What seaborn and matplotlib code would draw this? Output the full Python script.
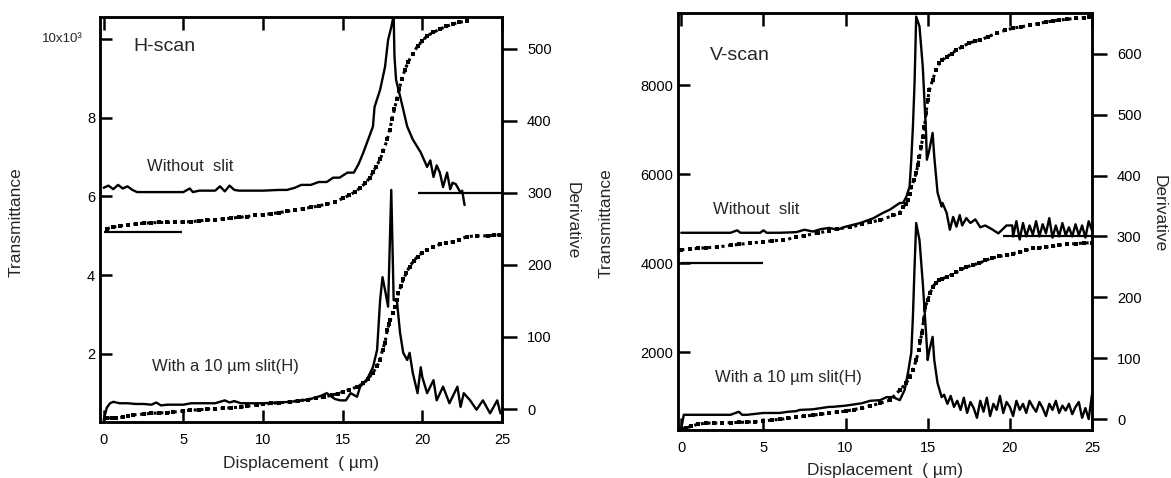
import pandas as pd
import seaborn as sns
import matplotlib
matplotlib.use("Agg")
import matplotlib.pyplot as plt

sns.set_style("white")
plt.rcParams['font.family'] = ['Liberation Sans', 'DejaVu Sans']

# ---------------- H-scan ----------------
# transmittance (x10^3), without slit
h_top_T_x = [0.2, 0.6, 1.0, 1.5, 2.0, 2.5, 3.0, 3.5, 4.0, 4.5, 5.0, 5.5, 6.0, 6.5, 7.0, 7.5,
             8.0, 8.5, 9.0, 9.5, 10.0, 10.5, 11.0, 11.5, 12.0, 12.5, 13.0, 13.5, 14.0, 14.5,
             15.0, 15.4, 15.8, 16.1, 16.4, 16.7, 16.9, 17.1, 17.35, 17.55, 17.8, 17.95, 18.1,
             18.25, 18.4, 18.55, 18.7, 18.9, 19.1, 19.4, 19.7, 20.0, 20.3, 20.7, 21.1, 21.5,
             21.9, 22.3, 22.8]
h_top_T = [5.18, 5.22, 5.25, 5.28, 5.30, 5.32, 5.33, 5.34, 5.34, 5.34, 5.35, 5.36, 5.38, 5.40,
           5.41, 5.43, 5.45, 5.47, 5.49, 5.52, 5.54, 5.56, 5.59, 5.62, 5.65, 5.69, 5.72, 5.76,
           5.81, 5.86, 5.95, 6.03, 6.12, 6.22, 6.33, 6.47, 6.62, 6.76, 6.94, 7.15, 7.45, 7.70,
           7.96, 8.22, 8.47, 8.72, 8.98, 9.20, 9.41, 9.62, 9.82, 9.95, 10.08, 10.17, 10.25,
           10.32, 10.38, 10.42, 10.46]

# derivative, without slit
h_top_D_x = [0.0, 0.3, 0.6, 0.9, 1.2, 1.5, 1.8, 2.1, 2.4, 3.0, 4.0, 5.0, 5.4, 5.6, 6.0, 7.0,
             7.3, 7.6, 7.9, 8.2, 8.5, 9.0, 10.0, 11.0, 11.5, 12.0, 12.4, 13.0, 13.5, 14.0,
             14.4, 14.8, 15.3, 15.7, 16.0, 16.3, 16.6, 16.9, 17.0, 17.35, 17.66, 17.85, 18.05,
             18.2, 18.25, 18.35, 18.7, 19.05, 19.4, 19.9, 20.3, 20.5, 20.7, 20.9, 21.1, 21.3,
             21.55, 21.75, 21.9, 22.1, 22.2, 22.4, 22.5, 22.65]
h_top_D = [307, 310, 305, 311, 306, 309, 304, 301, 301, 301, 301, 301, 306, 301, 303, 303,
           309, 302, 310, 304, 303, 303, 303, 304, 304, 307, 311, 311, 315, 315,
           321, 321, 328, 328, 340, 356, 374, 392, 419, 443, 475, 512, 530,
           546, 490, 457, 425, 392, 374, 356, 336, 345, 322, 338, 328, 308,
           328, 305, 314, 312, 308, 300, 303, 283]

# transmittance (x10^3), with 10 um slit
h_bot_T_x = [0.2, 0.5, 0.8, 1.2, 1.5, 1.85, 2.5, 3.0, 3.5, 4.0, 4.35, 5.0, 5.4, 6.0, 6.5, 7.0,
             7.5, 8.0, 8.6, 9.0, 9.6, 10.0, 10.5, 11.0, 11.7, 12.2, 12.8, 13.3, 13.8, 14.3,
             14.7, 15.0, 15.4, 15.9, 16.3, 16.6, 16.9, 17.15, 17.35, 17.5, 17.65, 17.8, 17.9,
             18.0, 18.15, 18.3, 18.4, 18.5, 18.65, 18.8, 19.0, 19.2, 19.45, 19.7, 20.0, 20.3,
             20.7, 21.1, 21.5, 21.9, 22.3, 22.8, 23.4, 24.1, 24.5, 24.9]
h_bot_T = [0.37, 0.38, 0.38, 0.39, 0.42, 0.45, 0.47, 0.49, 0.50, 0.51, 0.52, 0.55, 0.57, 0.58,
           0.60, 0.61, 0.62, 0.63, 0.65, 0.67, 0.70, 0.72, 0.74, 0.76, 0.78, 0.81, 0.84, 0.87,
           0.90, 0.95, 0.99, 1.03, 1.09, 1.16, 1.25, 1.37, 1.52, 1.68, 1.85, 2.10, 2.28, 2.60,
           2.75, 2.87, 3.05, 3.20, 3.38, 3.55, 3.72, 3.89, 4.06, 4.22, 4.36, 4.47, 4.57, 4.65,
           4.72, 4.78, 4.82, 4.85, 4.90, 4.98, 5.00, 5.00, 5.01, 5.03]

# derivative, with 10 um slit
h_bot_D_x = [0.0, 0.2, 0.4, 0.6, 0.8, 1.0, 1.5, 2.0, 2.5, 3.0, 3.3, 3.6, 4.0, 5.0, 5.5, 6.0,
             7.0, 7.6, 7.9, 8.2, 8.6, 9.0, 10.0, 11.0, 11.7, 12.5, 13.0, 13.6, 14.0, 14.5,
             14.84, 15.2, 15.5, 15.9, 16.1, 16.5, 16.9, 17.16, 17.35, 17.5, 17.66, 17.85,
             18.05, 18.2, 18.4, 18.6, 18.8, 19.05, 19.2, 19.4, 19.7, 19.9, 20.0, 20.3, 20.7,
             20.9, 21.3, 21.7, 22.2, 22.4, 22.6, 23.0, 23.4, 23.8, 24.25, 24.7, 24.9]
h_bot_D = [-15, 2, 8, 10, 9, 8, 8, 7, 7, 6, 9, 5, 6, 6, 8, 8,
           8, 12, 9, 11, 8, 8, 8, 9, 10, 12, 14, 18, 22, 14,
           12, 12, 22, 17, 31, 40, 58, 82, 151, 183, 165, 142,
           304, 151, 151, 106, 78, 68, 78, 50, 22, 58, 44, 22, 40,
           12, 31, 8, 31, 3, 22, 12, -1, 12, -6, 12, -6]

# ---------------- V-scan ----------------
v_top_T_x = [0.0, 0.5, 1.0, 1.5, 2.2, 3.0, 3.5, 4.2, 5.0, 5.5, 6.2, 7.0, 7.5, 8.3, 9.0, 9.5,
             10.3, 11.0, 11.5, 12.1, 12.9, 13.3, 13.5, 13.65, 13.8, 13.9, 14.0, 14.15, 14.3,
             14.4, 14.5, 14.6, 14.7, 14.8, 14.9, 15.0, 15.1, 15.3, 15.5, 15.7, 15.9, 16.15,
             16.45, 16.75, 17.1, 17.5, 17.85, 18.2, 18.7, 19.2, 19.7, 20.2, 20.7, 21.2, 21.7,
             22.2, 22.6, 23.0, 23.5, 24.0, 24.5, 24.8]
v_top_T = [4300, 4320, 4330, 4345, 4360, 4400, 4420, 4450, 4480, 4500, 4517, 4580, 4620, 4674,
           4730, 4770, 4809, 4870, 4920, 4966, 5070, 5123, 5250, 5330, 5416, 5560, 5708, 5860,
           6022, 6200, 6382, 6600, 6831, 7056, 7370, 7662, 7887, 8112, 8337, 8494, 8570, 8629,
           8710, 8786, 8860, 8943, 8980, 9010, 9090, 9168, 9230, 9280, 9310, 9347, 9380, 9415,
           9440, 9460, 9480, 9500, 9515, 9528]

v_top_D_x = [0.0, 0.5, 1.0, 2.0, 3.0, 3.4, 3.6, 4.0, 4.8, 5.0, 5.2, 6.0, 7.0, 7.5, 8.0, 8.5,
             9.0, 9.5, 10.0, 10.9, 11.7, 12.3, 12.7, 13.3, 13.5, 13.7, 13.9, 14.0, 14.1, 14.2,
             14.3, 14.5, 14.7, 14.9, 14.95, 15.1, 15.3, 15.4, 15.6, 15.85, 15.9, 16.15, 16.35,
             16.55, 16.75, 16.95, 17.1, 17.35, 17.6, 17.9, 18.2, 18.5, 18.9, 19.3, 19.8, 20.15,
             20.2, 20.4, 20.6, 20.8, 21.0, 21.2, 21.4, 21.6, 21.8, 22.0, 22.2, 22.4, 22.6, 22.8,
             23.0, 23.2, 23.4, 23.6, 23.8, 24.0, 24.2, 24.4, 24.6, 24.8, 25.0]
v_top_D = [306, 306, 306, 306, 306, 310, 306, 306, 306, 310, 306, 306, 307, 311, 308, 312,
           314, 311, 316, 322, 330, 339, 344, 355, 355, 365, 382, 426, 480, 552,
           661, 645, 579, 470, 426, 442, 470, 431, 372, 349, 355, 339, 311,
           332, 316, 335, 318, 330, 322, 328, 315, 318, 312, 305, 318, 318,
           300, 325, 295, 322, 300, 318, 303, 325, 300, 320, 305, 330, 298, 318,
           300, 322, 302, 315, 300, 320, 302, 318, 298, 325, 310]

v_bot_T_x = [0.0, 0.3, 0.6, 1.0, 1.5, 2.0, 2.5, 3.0, 3.5, 4.0, 4.5, 5.0, 5.5, 6.0, 6.5, 7.0,
             7.5, 8.0, 8.5, 9.0, 9.5, 10.0, 10.5, 11.0, 11.5, 12.1, 12.7, 13.3, 13.7, 13.9,
             14.1, 14.3, 14.45, 14.55, 14.65, 14.75, 14.85, 15.0, 15.15, 15.3, 15.5, 15.7,
             15.9, 16.15, 16.45, 16.75, 17.05, 17.35, 17.75, 18.15, 18.5, 18.9, 19.35, 19.8,
             20.2, 20.6, 21.0, 21.4, 21.8, 22.2, 22.6, 23.0, 23.5, 24.0, 24.5, 25.0]
v_bot_T = [280, 300, 330, 380, 405, 405, 410, 415, 420, 427, 440, 455, 472, 490, 510, 540,
           560, 584, 605, 629, 650, 674, 710, 742, 790, 850, 921, 1146, 1303, 1450,
           1596, 1820, 2045, 2250, 2427, 2719, 3011, 3168, 3330, 3461, 3560, 3618,
           3650, 3685, 3740, 3798, 3860, 3910, 3960, 4000, 4060, 4112, 4150, 4180,
           4215, 4247, 4290, 4337, 4350, 4360, 4380, 4404, 4420, 4440, 4450, 4460]

v_bot_D_x = [0.0, 0.15, 0.5, 1.0, 2.0, 3.0, 3.5, 3.7, 4.0, 5.0, 5.4, 6.0, 6.5, 7.0, 7.2, 8.0,
             9.0, 9.2, 10.0, 10.5, 11.0, 11.5, 12.1, 12.5, 12.9, 13.3, 13.6, 13.8, 14.0, 14.1,
             14.2, 14.3, 14.5, 14.7, 14.9, 15.0, 15.1, 15.3, 15.4, 15.6, 15.85, 16.0, 16.2,
             16.4, 16.6, 16.8, 17.0, 17.2, 17.4, 17.6, 17.8, 18.0, 18.2, 18.4, 18.6, 18.8,
             19.0, 19.2, 19.4, 19.6, 19.8, 20.0, 20.2, 20.4, 20.6, 20.8, 21.0, 21.2, 21.4,
             21.6, 21.8, 22.0, 22.2, 22.4, 22.6, 22.8, 23.0, 23.2, 23.4, 23.6, 23.8, 24.0,
             24.2, 24.4, 24.6, 24.8, 25.0]
v_bot_D = [-15, 7, 7, 7, 7, 7, 12, 7, 7, 10, 10, 10, 12, 13, 15, 16,
           20, 20, 22, 24, 26, 30, 31, 36, 36, 31, 48, 76, 109, 168,
           250, 322, 294, 224, 141, 97, 113, 135, 97, 59, 36, 40, 25,
           38, 20, 30, 15, 35, 10, 28, 18, 2, 30, 12, 35, 5,
           25, 15, 38, 10, 28, 20, 5, 30, 15, 25, 10, 30, 20,
           12, 28, 18, 5, 25, 15, 30, 10, 22, 14, 25, 8, 20,
           28, 2, 18, 0, 40]

# short baseline markers: (level, x from, x to)
h_base_T = (5.1, 0.0, 4.9)
h_base_D = (300, 19.7, 25.0)
v_base_T = (4000, 0.0, 5.0)
v_base_D = (300, 19.6, 25.0)


def frame(xs, ys):
    assert len(xs) == len(ys)
    return pd.DataFrame({"x": xs, "y": ys})


def trans(ax, xs, ys):
    sns.lineplot(ax=ax, data=frame(xs, ys), x="x", y="y", color="black", sort=False,
                 estimator=None, legend=False, linewidth=2.2, linestyle=(0, (1, 1.2)),
                 marker="s", markersize=2.6, markeredgewidth=0)


def deriv(ax, xs, ys):
    sns.lineplot(ax=ax, data=frame(xs, ys), x="x", y="y", color="black", sort=False,
                 estimator=None, legend=False, linewidth=1.7)


def style_axes(ax, ax2, xlim, ylim, ylim2):
    ax.set_xlim(*xlim)
    ax.set_ylim(*ylim)
    ax2.set_ylim(*ylim2)
    ax.set_xticks([0, 5, 10, 15, 20, 25])
    for a in (ax, ax2):
        for s in a.spines.values():
            s.set_linewidth(1.8)
            s.set_color("black")
    ax.tick_params(axis="x", direction="in", length=9, width=1.8, top=True, bottom=True,
                   labelsize=10.5, pad=8, colors="black")
    ax.tick_params(axis="y", direction="in", length=8.5, width=1.8, left=True, right=False,
                   labelsize=10.5, pad=3.5, colors="black")
    ax2.tick_params(axis="y", direction="out", length=11, width=1.8, right=True,
                    labelsize=10.5, pad=7, colors="black")
    ax.set_xlabel("Displacement  ( µm)", fontsize=12.5)
    ax.set_ylabel("Transmittance", fontsize=12.5)
    ax2.set_ylabel("Derivative", fontsize=12.5, rotation=-90, va="bottom")


fig = plt.figure(figsize=(11.71, 4.78), dpi=100)

# ---- left panel: H-scan ----
axL = fig.add_axes([0.0854, 0.1172, 0.3433, 0.8473])
axL2 = axL.twinx()
trans(axL, h_top_T_x, h_top_T)
trans(axL, h_bot_T_x, h_bot_T)
deriv(axL2, h_top_D_x, h_top_D)
deriv(axL2, h_bot_D_x, h_bot_D)
axL.hlines(h_base_T[0], h_base_T[1], h_base_T[2], color="black", lw=1.6)
axL2.hlines(h_base_D[0], h_base_D[1], h_base_D[2], color="black", lw=1.6)
style_axes(axL, axL2, (-0.23, 25.0), (0.27, 10.56), (-18, 544))
axL.set_yticks([2, 4, 6, 8, 10])
axL.set_yticklabels(["2", "4", "6", "8", ""])
axL2.set_yticks([0, 100, 200, 300, 400, 500])
axL.text(-0.042, 10, "10x10³", transform=axL.get_yaxis_transform(), ha="right",
         va="center", fontsize=9.5)
axL.yaxis.set_label_coords(-0.19, 0.494)
axL2.yaxis.set_label_coords(1.157, 0.496)
axL.xaxis.set_label_coords(0.5, -0.084)
axL.text(0.082, 0.926, "H-scan", transform=axL.transAxes, fontsize=14, va="center")
axL.text(0.117, 0.63, "Without  slit", transform=axL.transAxes, fontsize=12, va="center")
axL.text(0.129, 0.138, "With a 10 µm slit(H)", transform=axL.transAxes, fontsize=12,
         va="center")

# ---- right panel: V-scan ----
axR = fig.add_axes([0.579, 0.1004, 0.3535, 0.8724])
axR2 = axR.twinx()
trans(axR, v_top_T_x, v_top_T)
trans(axR, v_bot_T_x, v_bot_T)
deriv(axR2, v_top_D_x, v_top_D)
deriv(axR2, v_bot_D_x, v_bot_D)
axR.hlines(v_base_T[0], v_base_T[1], v_base_T[2], color="black", lw=1.6)
axR2.hlines(v_base_D[0], v_base_D[1], v_base_D[2], color="black", lw=1.6)
style_axes(axR, axR2, (-0.2, 25.0), (250, 9620), (-18, 667))
axR.set_yticks([2000, 4000, 6000, 8000])
axR2.set_yticks([0, 100, 200, 300, 400, 500, 600])
axR.yaxis.set_label_coords(-0.155, 0.496)
axR2.yaxis.set_label_coords(1.143, 0.52)
axR.xaxis.set_label_coords(0.5, -0.079)
axR.text(0.077, 0.897, "V-scan", transform=axR.transAxes, fontsize=14, va="center")
axR.text(0.085, 0.528, "Without  slit", transform=axR.transAxes, fontsize=12, va="center")
axR.text(0.089, 0.125, "With a 10 µm slit(H)", transform=axR.transAxes, fontsize=12,
         va="center")

fig.savefig("out.png", dpi=100)
